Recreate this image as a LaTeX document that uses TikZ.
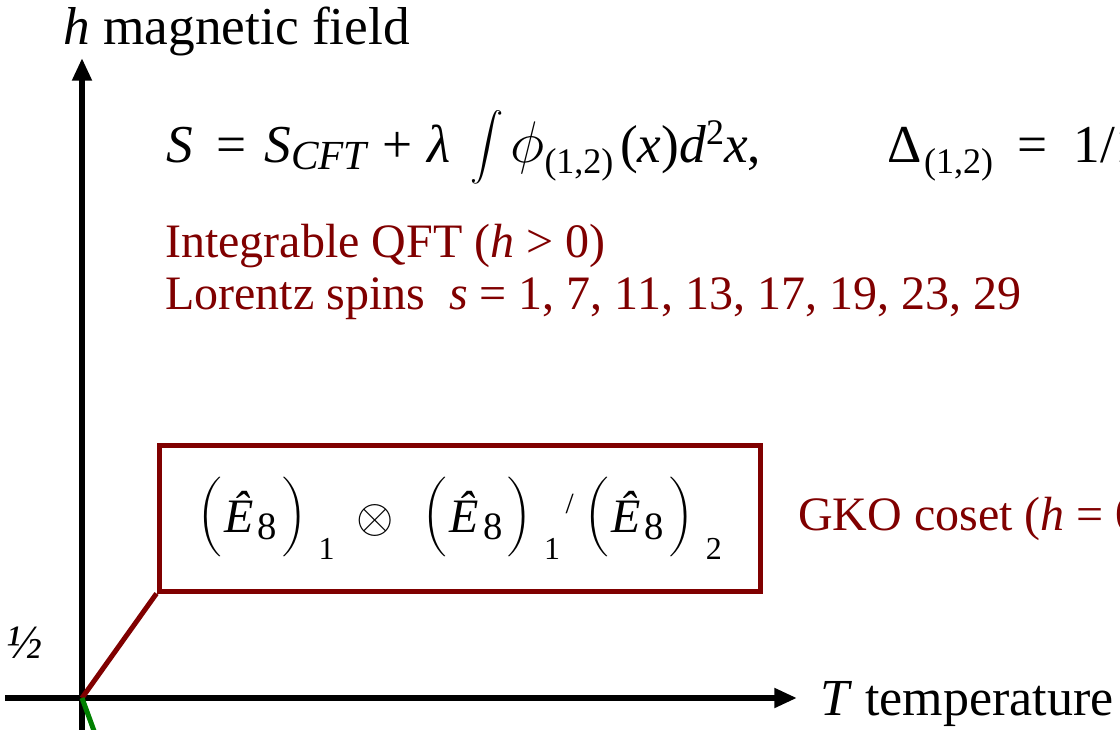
\documentclass[tikz,border=0pt]{standalone}
\usepackage{fix-cm}
\usepackage{amsmath}
\usepackage{fontspec}
\setmainfont{Liberation Serif}
\usepackage{tikz}
\usetikzlibrary{positioning, arrows.meta, calc}
\definecolor{DarkRed}{RGB}{128,0,0}
\definecolor{LineGreen}{RGB}{0,128,0}
% sizes used in the formulas
\newcommand{\sub}[3][27]{\raisebox{#2}{\fontsize{#1}{#1}\selectfont #3}}
\newcommand{\lpar}{\raisebox{4pt}{\fontsize{31}{31}\selectfont$\Bigl($}}
\newcommand{\rpar}{\raisebox{4pt}{\fontsize{31}{31}\selectfont$\Bigr)$}}
\newcommand{\Egroup}[1]{%
  \lpar\hspace{2pt}\textit{Ê}\hspace{3pt}\raisebox{-5pt}{\fontsize{29}{29}\selectfont 8}\hspace{4pt}%
  \rpar\hspace{9pt}\raisebox{-20pt}{\fontsize{24}{24}\selectfont #1}}
\tikzset{
  axis/.style={line width=4.5pt, -{Triangle[length=17pt, width=14pt]}},
  plain/.style={font=\fontsize{36}{43}\selectfont, inner sep=0pt, anchor=base west},
  redtext/.style={plain, text=DarkRed},
  phaseline/.style={line width=3.75pt}
}

\begin{document}
\begin{tikzpicture}[x=0.75pt, y=0.75pt]
  \useasboundingbox (0,0) rectangle (1120,729);
  \clip (0,0) rectangle (1120,729);

  % Axes
  \coordinate (O) at (82,31);
  \coordinate (hStart) at (82,-10);
  \coordinate (hEnd) at (82,671);
  \coordinate (TStart) at (5,31);
  \coordinate (TEnd) at (797,31);
  \draw[axis] (hStart) -- (hEnd);
  \draw[axis] (TStart) -- (TEnd);
  \node[plain, font=\fontsize{40}{48}\selectfont] (hlabel) at (63,684) {\textit{h} magnetic field};
  \node[plain, font=\fontsize{39}{47}\selectfont] (Tlabel) at (820,14) {\textit{T} temperature};
  \node[plain, anchor=center] (half) at (25,86) {\textit{½}};

  % Perturbed action
  \node[plain, font=\fontsize{40}{48}\selectfont] (action) at (166,566)
    {\textit{S}\hspace{18pt}=\hspace{13pt}\textit{S}\sub[31]{-5pt}{\itshape CFT}\hspace{12pt}+\hspace{11pt}\textit{λ}\hspace{15pt}%
     \raisebox{4pt}{\fontsize{30}{30}\selectfont$\displaystyle\int$}\hspace{5pt}{\fontsize{44}{44}\selectfont$\phi$}\sub{-8pt}{(1,2)}\hspace{5pt}%
     (\textit{x})\textit{d}\sub{14pt}{2}\textit{x},};
  \node[plain, font=\fontsize{40}{48}\selectfont] (dim) at (887,566)
    {Δ\hspace{2pt}\sub{-8pt}{(1,2)}\hspace{18pt}=\hspace{20pt}1/16};
  \node[redtext] (qft) at (165,471) {Integrable QFT (\textit{h} > 0)};
  \node[redtext] (spins) at (165,419)
    {Lorentz spins\ \ \textit{s} = 1, 7, 11, 13, 17, 19, 23, 29};

  % Coset box
  \node[draw=DarkRed, phaseline, inner sep=0pt, minimum width=450.75pt,
    minimum height=109.5pt, font=\fontsize{36}{43}\selectfont] (coset) at (459.5,211)
    {\Egroup{1}\hspace{16pt}$\otimes$\hspace{22pt}\Egroup{1}\hspace{4pt}%
     \raisebox{14pt}{\fontsize{22}{22}\selectfont/}\hspace{8pt}\Egroup{2}\hspace{8pt}};
  \node[redtext] (gko) at (798,199) {GKO coset (\textit{h} = 0)};
  \draw[DarkRed, phaseline] (O) -- (coset.south west);

  % Low temperature line
  \coordinate (gEnd) at (97,-10);
  \draw[LineGreen, phaseline] (O) -- (gEnd);
\end{tikzpicture}
\end{document}
